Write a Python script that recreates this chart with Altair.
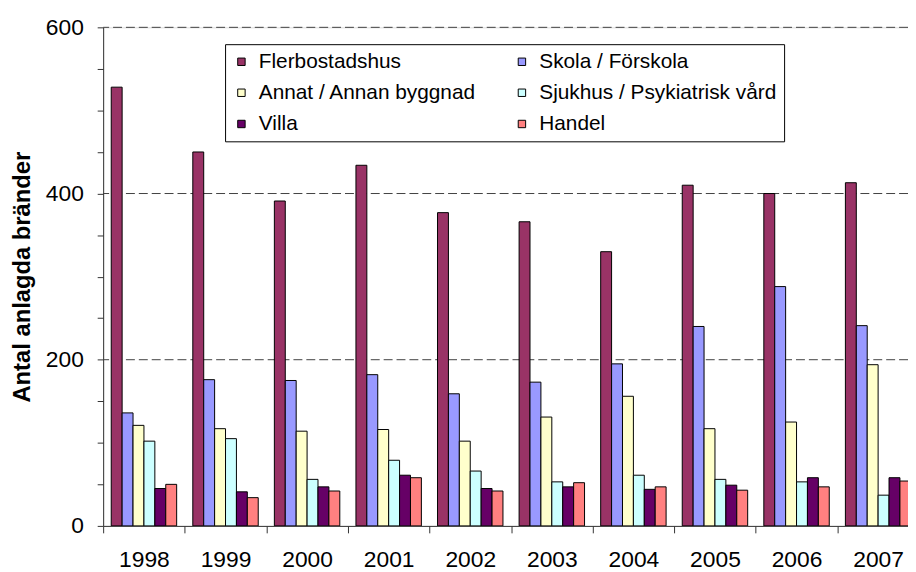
import altair as alt
import pandas as pd

years = ["1998", "1999", "2000", "2001", "2002", "2003", "2004", "2005", "2006", "2007"]
series = ["Flerbostadshus", "Skola / Förskola", "Annat / Annan byggnad",
          "Sjukhus / Psykiatrisk vård", "Villa", "Handel"]
colors = ["#993366", "#9999FF", "#FFFFCC", "#CCFFFF", "#660066", "#FF8080"]

flerbostadshus = [528, 450, 391, 434, 377, 366, 330, 410, 400, 413]
skola = [136, 176, 175, 182, 159, 173, 195, 240, 288, 241]
annat = [121, 117, 114, 116, 102, 131, 156, 117, 125, 194]
sjukhus = [102, 105, 56, 79, 66, 53, 61, 56, 53, 37]
villa = [45, 41, 47, 61, 45, 47, 44, 49, 58, 58]
handel = [50, 34, 42, 58, 42, 52, 47, 43, 47, 54]

grid_values = [200, 400, 600]
y_ticks = list(range(0, 601, 50))

all_values = [flerbostadshus, skola, annat, sjukhus, villa, handel]
rows = []
for s, vals in zip(series, all_values):
    for y, v in zip(years, vals):
        rows.append({"year": y, "series": s, "value": v})
df = pd.DataFrame(rows)
grid_df = pd.DataFrame({"value": grid_values})

# the legend fills column by column: reorder so rows read like the reference
legend_idx = [0, 2, 4, 1, 3, 5]
legend_order = [series[i] for i in legend_idx]
legend_colors = [colors[i] for i in legend_idx]

FONT = "Liberation Sans"

y_scale = alt.Scale(domain=[0, 600], nice=False)

grid = alt.Chart(grid_df).mark_rule(
    color="#404040", strokeWidth=1, strokeDash=[9, 4]
).encode(
    y=alt.Y("value:Q", scale=y_scale)
)

bars = alt.Chart(df).mark_bar(stroke="black", strokeWidth=1, clip=True).encode(
    x=alt.X(
        "year:N", sort=years,
        scale=alt.Scale(range=[0, 823], paddingInner=0, paddingOuter=0),
        axis=alt.Axis(
            title=None, tickBand="extent", labelAngle=0, labelFontSize=23,
            labelPadding=16, tickSize=7, domainColor="#333", tickColor="#333",
            labelColor="black", labelFont=FONT, labelOverlap=False,
        ),
    ),
    xOffset=alt.XOffset(
        "series:N", sort=series,
        scale=alt.Scale(paddingInner=0, paddingOuter=0.74),
    ),
    y=alt.Y(
        "value:Q", stack=None, scale=y_scale,
        axis=alt.Axis(
            values=y_ticks,
            labelExpr="datum.value % 200 == 0 ? datum.label : ''",
            grid=False, tickSize=6, labelPadding=14, labelFontSize=23,
            labelFont=FONT, labelColor="black", labelOverlap=False,
            domainColor="#333", tickColor="#333",
            title="Antal anlagda bränder", titleFontSize=24,
            titleFontWeight="bold", titleFont=FONT, titleColor="black",
            titleX=-81.5, titleBaseline="middle", titleAngle=270,
        ),
    ),
    color=alt.Color(
        "series:N", sort=legend_order,
        scale=alt.Scale(domain=legend_order, range=legend_colors),
        legend=alt.Legend(
            title=None, orient="none", legendX=123, legendY=17, columns=2,
            symbolType="square", symbolSize=56, symbolStrokeColor="black",
            symbolStrokeWidth=1, labelFontSize=21, labelFont=FONT,
            labelColor="black", labelLimit=0, padding=7, rowPadding=9.5,
            columnPadding=36, labelOffset=7, symbolOffset=-1,
            strokeColor="black", fillColor="white", symbolOpacity=1,
        ),
    ),
)

chart = alt.layer(grid, bars).properties(
    width=812,
    height=503,
    padding={"left": 96, "top": 17, "right": 0, "bottom": 44},
    autosize=alt.AutoSizeParams(type="none"),
    background="white",
).configure_view(stroke=None).configure(font=FONT)

chart.save("out.html", embed_options={"renderer": "svg", "actions": False})
